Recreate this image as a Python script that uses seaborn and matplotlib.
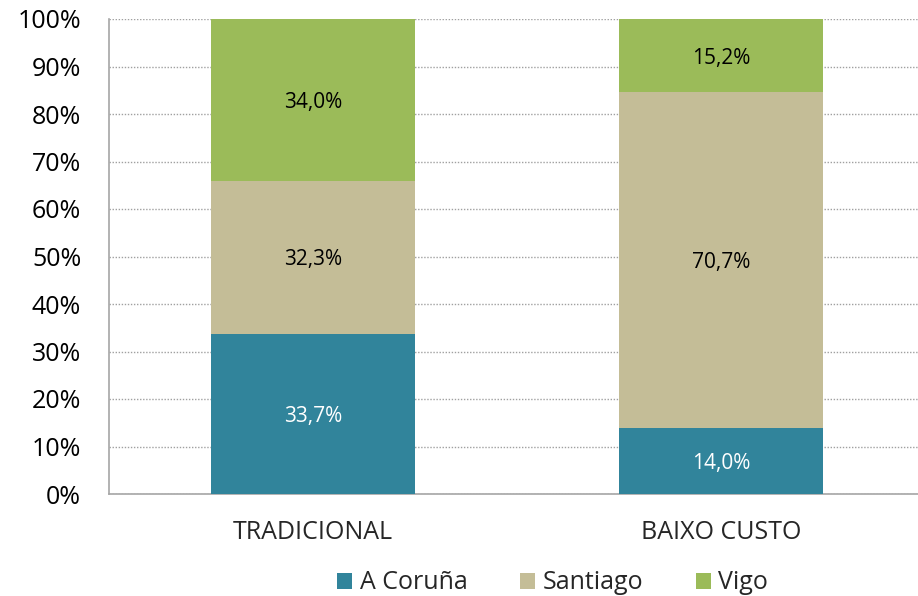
import matplotlib
matplotlib.use("Agg")
import matplotlib.pyplot as plt
from matplotlib.patches import Patch
from matplotlib.ticker import FixedLocator
import seaborn as sns
import pandas as pd
import numpy as np

categories = ["TRADICIONAL", "BAIXO CUSTO"]
series = ["A Coruña", "Santiago", "Vigo"]
coruna = [33.7, 14.0]
santiago = [32.3, 70.7]
vigo = [34.0, 15.2]
labels_coruna = ["33,7%", "14,0%"]
labels_santiago = ["32,3%", "70,7%"]
labels_vigo = ["34,0%", "15,2%"]
yticks = [0, 10, 20, 30, 40, 50, 60, 70, 80, 90, 100]

colors = {"A Coruña": "#31849B", "Santiago": "#C4BD97", "Vigo": "#9BBB59"}
label_colors = {"A Coruña": "white", "Santiago": "black", "Vigo": "black"}

sns.set_style("white")
plt.rcParams["font.family"] = ["Open Sans", "DejaVu Sans"]

fig = plt.figure(figsize=(9.18, 5.96), dpi=100)
ax = fig.add_axes([109/918, 1-494/596, 1-109/918, (494-19)/596])

vals = {"A Coruña": np.array(coruna), "Santiago": np.array(santiago), "Vigo": np.array(vigo)}
labs = {"A Coruña": labels_coruna, "Santiago": labels_santiago, "Vigo": labels_vigo}

cum = np.zeros(len(categories))
bottoms = {}
for s in series:
    bottoms[s] = cum.copy()
    cum = cum + vals[s]
tops = {s: bottoms[s] + vals[s] for s in series}

# draw tallest cumulative first so lower segments overlay
for s in reversed(series):
    df = pd.DataFrame({"cat": categories, "val": np.minimum(tops[s], 100)})
    sns.barplot(data=df, x="cat", y="val", color=colors[s], width=0.5,
                saturation=1, ax=ax, zorder=3, edgecolor="none")

for s in series:
    for i, c in enumerate(categories):
        y = bottoms[s][i] + vals[s][i] / 2
        ax.text(i, y, labs[s][i], ha="center", va="center_baseline", fontsize=15,
                color=label_colors[s], zorder=5)

ax.set_xlim(-0.5, -0.5 + (918-109)/408)
ax.set_ylim(0, 100)
ax.yaxis.set_major_locator(FixedLocator(yticks))
ax.set_yticklabels([f"{t}%" for t in yticks], fontsize=18)
ax.set_xticks([0, 1])
ax.set_xticklabels(categories, fontsize=18)
ax.xaxis.set_minor_locator(FixedLocator([-0.5, 0.5, 1.5]))
ax.tick_params(axis="x", which="major", length=0, pad=19)
ax.tick_params(axis="x", which="minor", length=7, color="#A6A6A6", width=1.2, direction="out")
ax.tick_params(axis="y", length=7, color="#A6A6A6", width=1.2, direction="out", pad=13, labelcolor="black")
ax.set_xlabel("")
ax.set_ylabel("")

ax.yaxis.grid(True, linestyle=(0, (1, 1.2)), color="#A0A0A0", linewidth=1, zorder=0)
ax.set_axisbelow(True)
for sp in ["top", "right"]:
    ax.spines[sp].set_visible(False)
for sp in ["left", "bottom"]:
    ax.spines[sp].set_color("#A6A6A6")
    ax.spines[sp].set_linewidth(1.2)

handles = [Patch(facecolor=colors[s], edgecolor="none") for s in series]
fig.legend(handles, series, loc="center", bbox_to_anchor=(0.602, 0.022), ncol=3,
           frameon=False, fontsize=18, handlelength=0.6, handleheight=0.6,
           handletextpad=0.3, columnspacing=2.1, borderpad=0)

fig.savefig("out.png", dpi=100)
